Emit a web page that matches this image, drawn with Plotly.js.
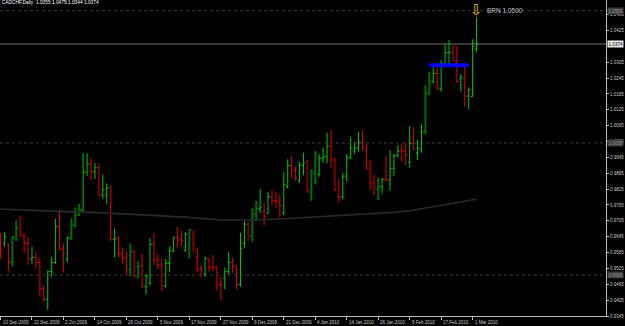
<!DOCTYPE html>
<html><head><meta charset="utf-8">
<script src="https://cdn.plot.ly/plotly-3.0.1.min.js"></script>
<style>html,body{margin:0;padding:0;background:#000;}#chart{width:625px;height:326px;}</style>
</head><body><div id="chart"></div>
<script>
// ---- categories: trading days ----
const dates = [
"2009-09-10","2009-09-11","2009-09-14","2009-09-15","2009-09-16","2009-09-17","2009-09-18","2009-09-21","2009-09-22","2009-09-23","2009-09-24","2009-09-25","2009-09-28","2009-09-29","2009-09-30",
"2009-10-01","2009-10-02","2009-10-05","2009-10-06","2009-10-07","2009-10-08","2009-10-09","2009-10-12","2009-10-13","2009-10-14","2009-10-15","2009-10-16","2009-10-19","2009-10-20","2009-10-21","2009-10-22","2009-10-23","2009-10-26","2009-10-27","2009-10-28","2009-10-29","2009-10-30",
"2009-11-02","2009-11-03","2009-11-04","2009-11-05","2009-11-06","2009-11-09","2009-11-10","2009-11-11","2009-11-12","2009-11-13","2009-11-16","2009-11-17","2009-11-18","2009-11-19","2009-11-20","2009-11-23","2009-11-24","2009-11-25","2009-11-26","2009-11-27","2009-11-30",
"2009-12-01","2009-12-02","2009-12-03","2009-12-04","2009-12-07","2009-12-08","2009-12-09","2009-12-10","2009-12-11","2009-12-14","2009-12-15","2009-12-16","2009-12-17","2009-12-18","2009-12-21","2009-12-22","2009-12-23","2009-12-24","2009-12-28","2009-12-29","2009-12-30","2009-12-31",
"2010-01-04","2010-01-05","2010-01-06","2010-01-07","2010-01-08","2010-01-11","2010-01-12","2010-01-13","2010-01-14","2010-01-15","2010-01-18","2010-01-19","2010-01-20","2010-01-21","2010-01-22","2010-01-25","2010-01-26","2010-01-27","2010-01-28","2010-01-29",
"2010-02-01","2010-02-02","2010-02-03","2010-02-04","2010-02-05","2010-02-08","2010-02-09","2010-02-10","2010-02-11","2010-02-12","2010-02-15","2010-02-16","2010-02-17","2010-02-18","2010-02-19","2010-02-22","2010-02-23","2010-02-24","2010-02-25","2010-02-26",
"2010-03-01","2010-03-02"];

// ---- series values ----
const open = [
.9635,.9620,.9614,.9550,.9643,.9673,.9648,.9620,.9560,.9567,
.9548,.9450,.9408,.9513,.9547,.9686,.9597,.9560,.9639,.9686,
.9727,.9746,.9889,.9923,.9891,.9906,.9803,.9803,.9834,.9635,
.9639,.9582,.9563,.9519,.9588,.9496,.9538,.9456,.9469,.9616,
.9557,.9538,.9459,.9544,.9591,.9641,.9633,.9595,.9614,.9664,
.9569,.9526,.9503,.9560,.9532,.9528,.9465,.9488,.9513,.9548,
.9532,.9465,.9620,.9692,.9648,.9730,.9750,.9740,.9734,.9796,
.9781,.9777,.9734,.9834,.9915,.9897,.9858,.9915,.9931,.9815,
.9882,.9881,.9942,.9948,.9988,.9935,.9796,.9796,.9874,.9945,
.9969,.9980,1.0002,.9973,.9904,.9847,.9824,.9834,.9862,.9860,
.9904,.9952,.9973,.9969,.9927,.9998,.9963,.9976,1.0040,1.0188,
1.0232,1.0263,1.0203,1.0301,1.0341,1.0341,1.0307,1.0242,1.0244,1.0177,
1.0175,1.0355];
const high = [
.9658,.9662,.9620,.9648,.9706,.9723,.9658,.9643,.9607,.9588,
.9566,.9460,.9516,.9569,.9712,.9746,.9620,.9645,.9715,.9756,
.9769,.9961,.9961,.9942,.9925,.9923,.9881,.9847,.9837,.9677,
.9648,.9605,.9588,.9620,.9597,.9553,.9580,.9504,.9639,.9658,
.9578,.9561,.9561,.9610,.9645,.9681,.9668,.9662,.9673,.9668,
.9605,.9538,.9569,.9563,.9576,.9534,.9496,.9528,.9588,.9566,
.9535,.9660,.9704,.9702,.9753,.9780,.9826,.9774,.9814,.9822,
.9813,.9807,.9891,.9938,.9950,.9910,.9928,.9963,.9935,.9901,
.9969,.9957,.9982,1.0039,1.0049,.9944,.9863,.9887,.9958,1.0022,
1.0001,1.0041,1.0045,.9998,.9935,.9879,.9868,.9866,.9950,.9973,
.9957,.9992,.9998,1.0001,1.0064,1.0059,1.0011,1.0068,1.0219,1.0269,
1.0295,1.0288,1.0314,1.0374,1.0389,1.0370,1.0367,1.0261,1.0288,1.0210,
1.0392,1.0475];
const low = [
.9563,.9607,.9509,.9532,.9629,.9645,.9582,.9538,.9541,.9526,
.9418,.9399,.9368,.9491,.9542,.9595,.9509,.9550,.9633,.9681,
.9723,.9740,.9875,.9860,.9863,.9796,.9788,.9769,.9630,.9566,
.9567,.9544,.9500,.9496,.9490,.9488,.9452,.9427,.9462,.9538,
.9522,.9440,.9452,.9510,.9586,.9601,.9611,.9588,.9563,.9588,
.9515,.9491,.9494,.9513,.9515,.9443,.9406,.9446,.9503,.9507,
.9446,.9456,.9601,.9630,.9626,.9704,.9734,.9687,.9730,.9764,
.9755,.9717,.9727,.9828,.9868,.9856,.9849,.9877,.9809,.9781,
.9843,.9872,.9925,.9923,.9906,.9818,.9774,.9787,.9853,.9940,
.9958,.9967,.9973,.9900,.9822,.9803,.9784,.9809,.9853,.9819,
.9875,.9945,.9929,.9914,.9906,.9973,.9935,.9963,1.0033,1.0181,
1.0225,1.0200,1.0194,1.0291,1.0295,1.0311,1.0228,1.0194,1.0137,1.0128,
1.0175,1.0344];
const close = [
.9595,.9645,.9547,.9643,.9677,.9650,.9620,.9563,.9567,.9547,
.9450,.9408,.9513,.9547,.9683,.9597,.9582,.9641,.9689,.9727,
.9746,.9889,.9920,.9891,.9906,.9803,.9822,.9828,.9635,.9639,
.9582,.9563,.9522,.9588,.9496,.9534,.9456,.9496,.9616,.9557,
.9538,.9459,.9544,.9591,.9641,.9633,.9631,.9655,.9670,.9588,
.9519,.9516,.9563,.9528,.9529,.9465,.9461,.9513,.9548,.9532,
.9465,.9601,.9692,.9648,.9731,.9750,.9757,.9723,.9796,.9781,
.9778,.9764,.9843,.9915,.9897,.9867,.9915,.9924,.9818,.9889,
.9957,.9942,.9948,.9988,.9935,.9822,.9792,.9874,.9943,.9980,
.9980,1.0002,.9981,.9904,.9847,.9828,.9834,.9862,.9860,.9904,
.9952,.9969,.9967,.9954,.9998,.9976,.9980,1.0040,1.0188,1.0232,
1.0263,1.0207,1.0301,1.0341,1.0344,1.0311,1.0232,1.0249,1.0177,1.0200,
1.0364,1.0374];
// bars drawn in the darker (highlighted) colours
const highlightedBars = [3,4,5,18,19,20,33,34,35,48,49,63,64,65,78,79,80,94,95,96,108,109];

// moving average read at sample days
const maDates = ["2009-09-10","2009-09-22","2009-10-02","2009-10-14","2009-10-26","2009-11-05","2009-11-17","2009-11-27","2009-12-09","2009-12-21","2010-01-04","2010-01-14","2010-01-26","2010-02-01","2010-02-05","2010-02-11","2010-02-17","2010-02-23","2010-03-02"];
const maValues = [.9750,.9744,.9740,.9737,.9731,.9726,.9718,.9708,.9708,.9713,.9720,.9726,.9734,.9737,.9743,.9753,.9762,.9774,.9787];

// tick labels
const tickDates = ["2009-09-10","2009-09-22","2009-10-02","2009-10-14","2009-10-26","2009-11-05","2009-11-17","2009-11-27","2009-12-09","2009-12-21","2010-01-04","2010-01-14","2010-01-26","2010-02-05","2010-02-17","2010-03-01"];
const tickLabels = ["10 Sep 2009","22 Sep 2009","2 Oct 2009","14 Oct 2009","26 Oct 2009","5 Nov 2009","17 Nov 2009","27 Nov 2009","9 Dec 2009","21 Dec 2009","4 Jan 2010","14 Jan 2010","26 Jan 2010","5 Feb 2010","17 Feb 2010","1 Mar 2010"];
const priceTicks = [1.0485,1.0425,1.0305,1.0245,1.0185,1.0125,1.0065,1.0005,0.9945,0.9885,0.9825,0.9765,0.9705,0.9645,0.9585,0.9525,0.9465,0.9405,0.9345];

// chart objects
const levelLines = [1.05, 1.00, 0.95];
const currentPrice = 1.0374;
const blueLevel = 1.0294, blueStart = "2010-02-12", blueEnd = "2010-02-26";
const arrowDate = "2010-03-02", arrowLevel = 1.05, arrowLabel = "BRN 1.0500";
const symbol = "CADCHF,Daily";

// ---- build ----
const n = dates.length, last = n - 1;
const isDark = new Set(highlightedBars);
function subset(pred){
  const o={x:[],open:[],high:[],low:[],close:[]};
  for(let i=0;i<n;i++){ if(pred(i)){ o.x.push(dates[i]); o.open.push(open[i]); o.high.push(high[i]); o.low.push(low[i]); o.close.push(close[i]); } }
  return o;
}
const normal = subset(i=>!isDark.has(i));
const dark = subset(i=>isDark.has(i));

const traces = [
  {type:'scatter',mode:'lines',x:maDates,y:maValues,line:{color:'#2a2a2a',width:1.6},hoverinfo:'skip',showlegend:false},
  Object.assign({type:'ohlc',tickwidth:0.45,hoverinfo:'skip',showlegend:false,
    increasing:{line:{color:'#00c800',width:1}},decreasing:{line:{color:'#e00000',width:1}}},normal),
  Object.assign({type:'ohlc',tickwidth:0.45,hoverinfo:'skip',showlegend:false,
    increasing:{line:{color:'#006a00',width:2}},decreasing:{line:{color:'#7a0000',width:2}}},dark),
  {type:'scatter',mode:'lines',x:[blueStart,blueEnd],y:[blueLevel,blueLevel],line:{color:'#0000ff',width:4},hoverinfo:'skip',showlegend:false}
];

const fam = 'Liberation Sans, Arial, sans-serif';
const shapes = levelLines.map(v=>({type:'line',xref:'paper',x0:0,x1:1,yref:'y',y0:v,y1:v,line:{color:'#3c3c3c',width:1,dash:'dot'},layer:'below'}));
shapes.push({type:'line',xref:'paper',x0:0,x1:1,yref:'y',y0:currentPrice,y1:currentPrice,line:{color:'#4c4c4c',width:1.5},layer:'below'});

const annotations = levelLines.map(v=>({xref:'paper',x:1,xanchor:'left',xshift:1,yref:'y',y:v,yanchor:'middle',
  text:v.toFixed(4),showarrow:false,bgcolor:'#3a3a3a',borderpad:0.5,font:{family:fam,size:4.6,color:'#9a9a9a'}}));
annotations.push({xref:'paper',x:1,xanchor:'left',xshift:1,yref:'y',y:currentPrice,yanchor:'middle',
  text:currentPrice.toFixed(4),showarrow:false,bgcolor:'#e8e8e8',borderpad:0.5,font:{family:fam,size:4.6,color:'#000'}});
annotations.push({xref:'x',x:arrowDate,yref:'y',y:arrowLevel,yanchor:'middle',xanchor:'center',yshift:1,
  text:'\u21E9',showarrow:false,font:{family:'DejaVu Sans',size:15,color:'#e8cc00'}});
annotations.push({xref:'x',x:arrowDate,yref:'y',y:arrowLevel,yanchor:'middle',xanchor:'left',xshift:8,
  text:arrowLabel,showarrow:false,font:{family:fam,size:6.5,color:'#c8c8c8'}});
tickDates.forEach((d,k)=>annotations.push({xref:'x',x:d,yref:'paper',y:0,yanchor:'top',yshift:-2.5,xanchor:'left',xshift:1,
  text:tickLabels[k],showarrow:false,borderpad:0,font:{family:fam,size:4.5,color:'#c8c8c8'}}));

const layout = {
  width:625,height:326,
  margin:{l:0,r:19,t:0,b:10,pad:0},
  paper_bgcolor:'#000',plot_bgcolor:'#000',
  showlegend:false,
  title:{text:symbol+'  '+[open[last],high[last],low[last],close[last]].map(v=>v.toFixed(4)).join(' '),
    x:0.003,xanchor:'left',xref:'paper',y:0.997,yanchor:'top',yref:'container',
    font:{family:fam,size:4.8,color:'#ffffff'}},
  xaxis:{type:'category',categoryorder:'array',categoryarray:dates,range:[-0.13,153.9],
    rangeslider:{visible:false},showgrid:false,zeroline:false,
    showline:true,linecolor:'#bdbdbd',linewidth:1,
    ticks:'outside',ticklen:3,tickcolor:'#bdbdbd',tickwidth:1,
    tickmode:'array',tickvals:tickDates,showticklabels:false,fixedrange:true},
  yaxis:{side:'right',range:[0.9345,1.05406],showgrid:false,zeroline:false,
    showline:true,linecolor:'#bdbdbd',linewidth:1,
    ticks:'outside',ticklen:2,tickcolor:'#bdbdbd',
    tickmode:'array',tickvals:priceTicks,ticktext:priceTicks.map(v=>v.toFixed(4)),
    tickfont:{family:fam,size:4.5,color:'#c8c8c8'},fixedrange:true},
  shapes:shapes,annotations:annotations
};
Plotly.newPlot('chart',traces,layout,{staticPlot:true,displayModeBar:false});
</script></body></html>
